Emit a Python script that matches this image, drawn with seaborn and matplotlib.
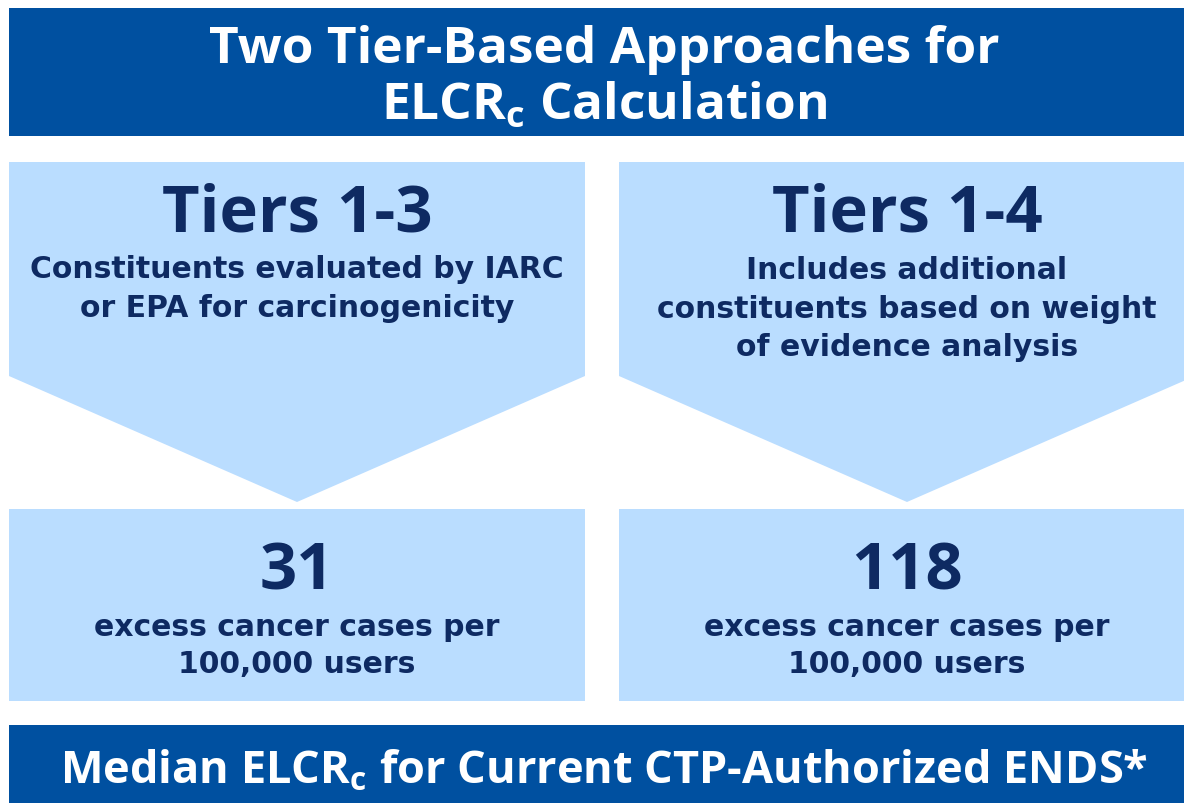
import matplotlib
matplotlib.use("Agg")
import matplotlib.pyplot as plt
from matplotlib.patches import Polygon, Rectangle
import seaborn as sns

# ---- content ----
title_lines = ["Two Tier-Based Approaches for", r"ELCR$_{\mathrm{c}}$ Calculation"]
tiers = ["Tiers 1-3", "Tiers 1-4"]
tier_desc = [["Constituents evaluated by IARC", "or EPA for carcinogenicity"],
             ["Includes additional", "constituents based on weight", "of evidence analysis"]]
elcr_values = [31, 118]
value_desc = ["excess cancer cases per", "100,000 users"]
footer = r"Median ELCR$_{\mathrm{c}}$ for Current CTP-Authorized ENDS*"

sns.set_theme(style="white")
BIG = "Open Sans"
SMALL = "DejaVu Sans"
plt.rcParams["font.family"] = [BIG, "DejaVu Sans"]
plt.rcParams["mathtext.fontset"] = "custom"
plt.rcParams["mathtext.rm"] = BIG + ":bold"
plt.rcParams["mathtext.it"] = BIG + ":bold"
plt.rcParams["mathtext.bf"] = BIG + ":bold"

DARK = "#0050A0"
LIGHT = "#BADDFF"
NAVY = "#0E2A62"

W, H = 1184, 804
fig = plt.figure(figsize=(W / 100, H / 100), dpi=100)
ax = fig.add_axes([0, 0, 1, 1])
ax.set_xlim(0, W)
ax.set_ylim(H, 0)
ax.axis("off")

# top banner
ax.add_patch(Rectangle((9, 9), 1190, 128, color=DARK, lw=0))
ax.text(604, 50, title_lines[0], ha="center", va="center", color="white",
        fontsize=37, fontweight="bold", family=BIG)
ax.text(604, 107, title_lines[1], ha="center", va="center", color="white",
        fontsize=37, fontweight="bold", family=BIG)

col_x0 = [9, 619]
col_w = 576
for i in range(2):
    x0 = col_x0[i]
    cx = x0 + col_w / 2
    # chevron
    ax.add_patch(Polygon([(x0, 163), (x0 + col_w, 163), (x0 + col_w, 377),
                          (cx, 503), (x0, 377)], closed=True, color=LIGHT, lw=0))
    # value box
    ax.add_patch(Rectangle((x0, 510), col_w, 192, color=LIGHT, lw=0))

    ax.text(cx, 215, tiers[i], ha="center", va="center", color=NAVY,
            fontsize=47, fontweight="bold", family=BIG)
    lines = tier_desc[i]
    y0 = 270 if len(lines) == 2 else 271
    for j, ln in enumerate(lines):
        ax.text(cx, y0 + j * 38.5, ln, ha="center", va="center", color=NAVY,
                fontsize=21.5, fontweight="bold", family=SMALL)
    ax.text(cx, 573, str(elcr_values[i]), ha="center", va="center", color=NAVY,
            fontsize=47, fontweight="bold", family=BIG)
    for j, ln in enumerate(value_desc):
        ax.text(cx, 628 + j * 37, ln, ha="center", va="center", color=NAVY,
                fontsize=21.5, fontweight="bold", family=SMALL)

# footer banner
ax.add_patch(Rectangle((9, 726), 1190, 90, color=DARK, lw=0))
ax.text(604, 772, footer, ha="center", va="center", color="white",
        fontsize=32.5, fontweight="bold", family=BIG)

fig.savefig("out.png", dpi=100)
